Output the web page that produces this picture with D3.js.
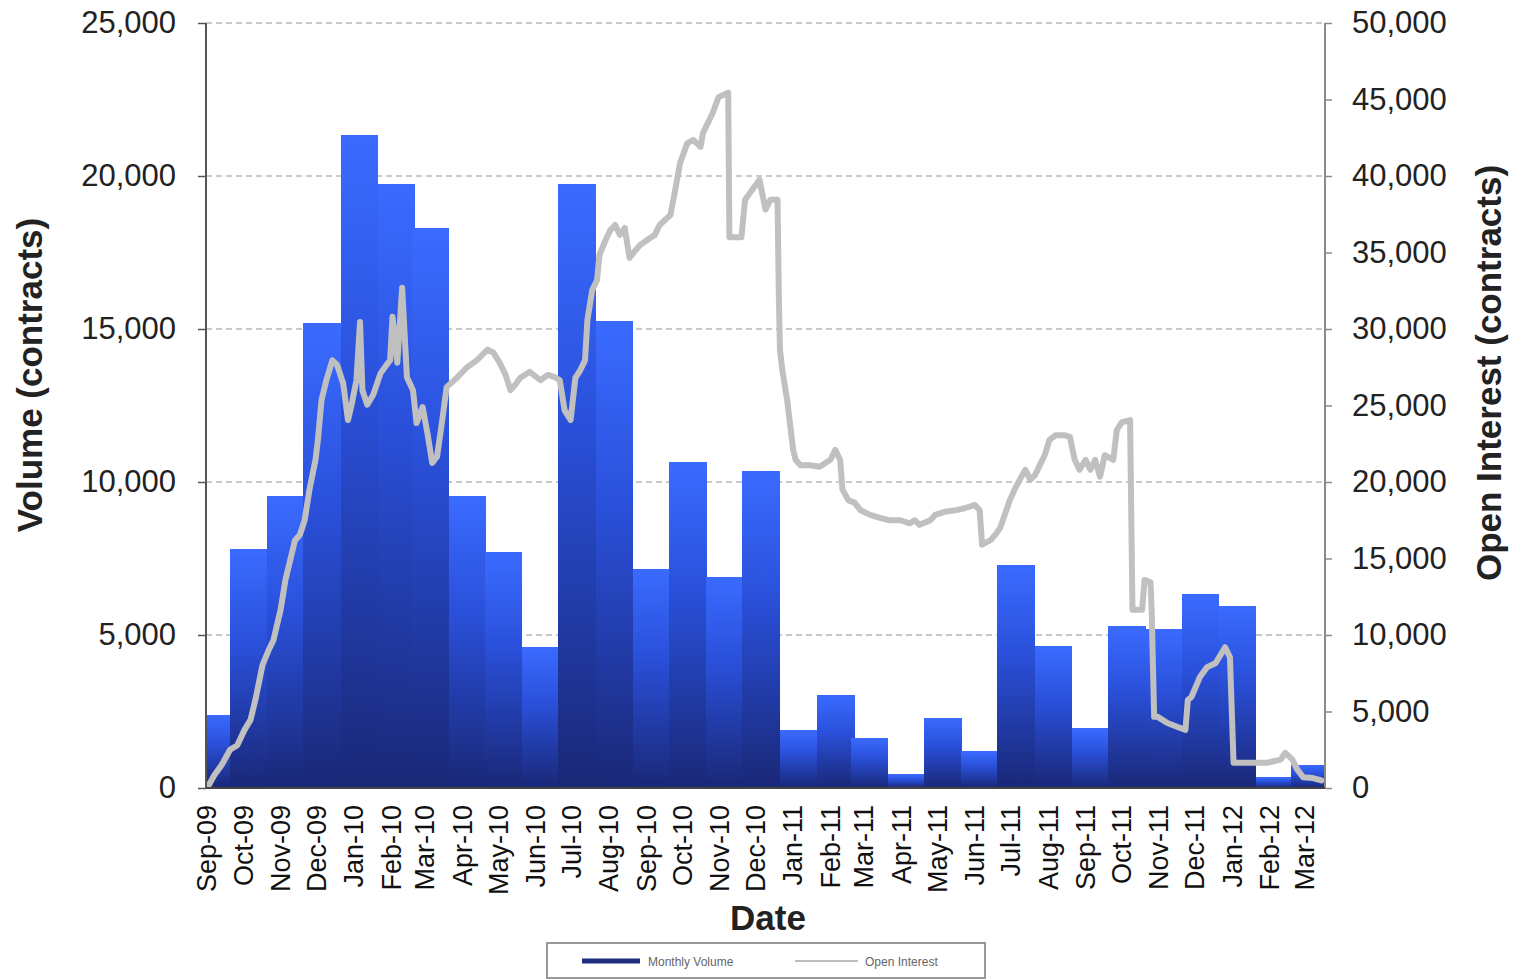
<!DOCTYPE html>
<html>
<head>
<meta charset="utf-8">
<script src="https://cdn.jsdelivr.net/npm/d3@7"></script>
<style>
  html, body { margin: 0; padding: 0; background: #fff; }
  svg { display: block; font-family: "Liberation Sans", Arial, sans-serif; }
</style>
</head>
<body>
<svg id="chart" width="1514" height="980"></svg>
<script>
// ---- Data ----
const months = ["Sep-09","Oct-09","Nov-09","Dec-09","Jan-10","Feb-10","Mar-10","Apr-10","May-10","Jun-10","Jul-10","Aug-10","Sep-10","Oct-10","Nov-10","Dec-10","Jan-11","Feb-11","Mar-11","Apr-11","May-11","Jun-11","Jul-11","Aug-11","Sep-11","Oct-11","Nov-11","Dec-11","Jan-12","Feb-12","Mar-12"];
const monthlyVolume = [2400,7800,9550,15200,21350,19750,18300,9550,7700,4600,19750,15250,7150,10650,6900,10350,1900,3050,1650,450,2300,1200,7300,4650,1950,5300,5200,6350,5950,350,750];
// Open interest: days since 2009-09-01, contracts
const oiDay = [-4,2,8,15,21,27,32,36,42,47,51,57,61,65,69,73,77,81,86,88,91,95,100,104,109,113,116,120,123,125,129,134,140,145,148,150,154,158,162,167,170,175,179,183,187,191,195,204,212,220,229,234,239,244,248,252,256,264,273,279,285,289,293,298,302,306,310,312,316,320,322,327,331,335,339,343,347,352,356,364,368,372,381,385,389,395,400,406,408,416,421,429,430,440,443,449,455,460,464,470,471,472,474,478,480,483,485,489,497,505,514,518,522,524,529,534,539,547,555,563,572,580,584,588,597,601,609,618,626,634,638,640,647,651,655,663,667,672,676,680,684,688,692,696,701,709,713,717,721,726,730,734,738,742,749,752,756,763,765,773,775,780,781,783,786,794,802,809,811,814,821,827,834,842,846,849,857,877,888,892,898,902,907,915,922];
const oiValue = [0,850,1500,2500,2800,3800,4450,5750,8050,9000,9650,11650,13600,14900,16200,16550,17500,19500,21450,22750,25350,26650,27950,27650,26450,24050,25050,26650,30450,26000,25050,25700,27100,27650,27950,30800,27800,32700,26850,26000,23850,24900,23200,21250,21650,23850,26200,26850,27500,27950,28650,28450,27800,27000,26000,26350,26800,27200,26650,27000,26850,26650,24700,24050,26800,27300,27950,30600,32550,33200,34850,35800,36450,36800,36150,36600,34650,35150,35500,35950,36150,36800,37450,39100,40850,42150,42350,41900,42800,44100,45150,45450,36000,36000,38450,39100,39750,37800,38450,38450,32550,28650,27300,25350,24050,22100,21450,21100,21100,21000,21450,22100,21450,19500,18800,18650,18150,17850,17650,17500,17500,17300,17500,17200,17500,17850,18050,18150,18300,18500,18150,15900,16200,16550,17000,18800,19500,20250,20800,20150,20450,21100,21750,22750,23050,23050,22950,21450,20800,21450,20800,21450,20350,21750,21450,23400,23900,24050,11650,11650,13600,13450,11450,4650,4650,4250,4000,3800,5750,5950,7250,7900,8150,9200,8550,1650,1650,1650,1850,2300,1850,1200,700,650,500];
const leftTicks = [0,5000,10000,15000,20000,25000];
const rightTicks = [0,5000,10000,15000,20000,25000,30000,35000,40000,45000,50000];
const legendLabels = ["Monthly Volume","Open Interest"];

// ---- Layout ----
const svg = d3.select("#chart");
const L = 206, R = 1325, T = 23, B = 788;
const start = new Date(2009, 8, 1);
const monthDates = months.map((m, i) => d3.timeMonth.offset(start, i));

const x = d3.scaleTime()
  .domain([new Date(2009, 7, 27), new Date(2012, 2, 14)])
  .range([L, R]);
const yL = d3.scaleLinear().domain([0, 25000]).range([B, T]);
const yR = d3.scaleLinear().domain([0, 50000]).range([B, T]);
const fmt = d3.format(",");

const defs = svg.append("defs");
const grad = defs.append("linearGradient").attr("id", "barGrad")
  .attr("x1", 0).attr("y1", 0).attr("x2", 0).attr("y2", 1);
grad.append("stop").attr("offset", "0%").attr("stop-color", "#3a6bff");
grad.append("stop").attr("offset", "40%").attr("stop-color", "#2a50da");
grad.append("stop").attr("offset", "100%").attr("stop-color", "#192776");
defs.append("clipPath").attr("id", "plotClip")
  .append("rect").attr("x", L).attr("y", T - 5).attr("width", R - L).attr("height", B - T + 5);

// gridlines
svg.append("g").selectAll("line").data(leftTicks.filter(d => d > 0)).join("line")
  .attr("x1", L).attr("x2", R)
  .attr("y1", d => yL(d)).attr("y2", d => yL(d))
  .attr("stroke", "#b8b8b8").attr("stroke-width", 1.5).attr("stroke-dasharray", "6,4");

// bars
const halfMonth = (x(new Date(2010, 0, 1)) - x(new Date(2009, 0, 1))) / 24;
svg.append("g").attr("clip-path", "url(#plotClip)")
  .selectAll("rect").data(monthlyVolume).join("rect")
  .attr("x", (d, i) => Math.round(x(monthDates[i]) - halfMonth))
  .attr("width", (d, i) => Math.round(x(monthDates[i]) + halfMonth) - Math.round(x(monthDates[i]) - halfMonth) + 1)
  .attr("y", d => yL(d))
  .attr("height", d => B - yL(d))
  .attr("shape-rendering", "crispEdges")
  .attr("fill", "url(#barGrad)");

// open interest line
const oiData = oiDay.map((d, i) => [d3.timeDay.offset(start, d), oiValue[i]]);
svg.append("path")
  .datum(oiData)
  .attr("clip-path", "url(#plotClip)")
  .attr("d", d3.line().x(d => x(d[0])).y(d => yR(d[1])))
  .attr("fill", "none").attr("stroke", "#c0c0c0").attr("stroke-width", 6)
  .attr("stroke-linejoin", "round").attr("stroke-linecap", "round");

// axes
const leftAxis = svg.append("g").attr("transform", `translate(${L},0)`)
  .call(d3.axisLeft(yL).tickValues(leftTicks).tickFormat(fmt).tickSize(8).tickPadding(22));
leftAxis.select(".domain").attr("stroke", "#555").attr("stroke-width", 2).attr("d", `M0,${T}V${B}`);
leftAxis.selectAll(".tick line").attr("stroke", "#555").attr("stroke-width", 1.5);
leftAxis.selectAll(".tick text").attr("font-size", 31).attr("fill", "#222")
  .attr("font-family", "Liberation Sans, Arial, sans-serif");

const rightAxis = svg.append("g").attr("transform", `translate(${R},0)`)
  .call(d3.axisRight(yR).tickValues(rightTicks).tickFormat(fmt).tickSize(7).tickPadding(20));
rightAxis.select(".domain").attr("stroke", "#8a8a8a").attr("stroke-width", 2).attr("d", `M0,${T}V${B}`);
rightAxis.selectAll(".tick line").attr("stroke", "#8a8a8a").attr("stroke-width", 1.5);
rightAxis.selectAll(".tick text").attr("font-size", 31).attr("fill", "#222")
  .attr("font-family", "Liberation Sans, Arial, sans-serif");

// bottom axis line
svg.append("line").attr("x1", L).attr("x2", R).attr("y1", B).attr("y2", B)
  .attr("stroke", "#444").attr("stroke-width", 2);

// month labels
svg.append("g").selectAll("text").data(months).join("text")
  .attr("transform", (d, i) => `translate(${x(monthDates[i]) - 5},805) rotate(-90)`)
  .attr("text-anchor", "end").attr("dy", "0.35em")
  .attr("font-size", 27).attr("fill", "#111")
  .text(d => d);

// axis titles
svg.append("text").attr("transform", "translate(30,375) rotate(-90)")
  .attr("text-anchor", "middle").attr("dy", "0.35em")
  .attr("font-size", 35).attr("font-weight", "bold").attr("fill", "#222")
  .text("Volume (contracts)");
svg.append("text").attr("transform", "translate(1489,373) rotate(-90)")
  .attr("text-anchor", "middle").attr("dy", "0.35em")
  .attr("font-size", 35).attr("font-weight", "bold").attr("fill", "#222")
  .text("Open Interest (contracts)");
svg.append("text").attr("x", 768).attr("y", 930)
  .attr("text-anchor", "middle")
  .attr("font-size", 35).attr("font-weight", "bold").attr("fill", "#222")
  .text("Date");

// legend
const lg = svg.append("g");
lg.append("rect").attr("x", 547).attr("y", 943).attr("width", 438).attr("height", 35)
  .attr("fill", "#fff").attr("stroke", "#999").attr("stroke-width", 2);
lg.append("line").attr("x1", 582).attr("x2", 640).attr("y1", 961).attr("y2", 961)
  .attr("stroke", "#1f2f80").attr("stroke-width", 5);
lg.append("text").attr("x", 648).attr("y", 965.5).attr("font-size", 12).attr("fill", "#666")
  .text(legendLabels[0]);
lg.append("line").attr("x1", 795).attr("x2", 858).attr("y1", 961).attr("y2", 961)
  .attr("stroke", "#bdbdbd").attr("stroke-width", 2);
lg.append("text").attr("x", 865).attr("y", 965.5).attr("font-size", 12).attr("fill", "#666")
  .text(legendLabels[1]);
</script>
</body>
</html>
